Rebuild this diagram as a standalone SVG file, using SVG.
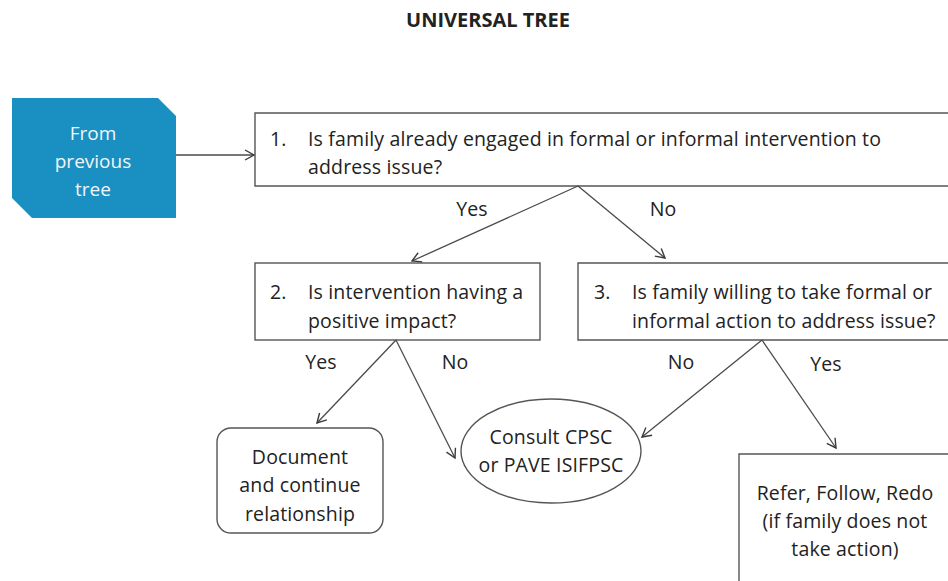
<svg xmlns="http://www.w3.org/2000/svg" width="948" height="581" viewBox="0 0 948 581">
  <defs>
    <marker id="arrow" markerWidth="12" markerHeight="12" refX="10" refY="6" orient="auto" markerUnits="userSpaceOnUse">
      <path d="M1,1 L10,6 L1,11" fill="none" stroke="#3a3a3a" stroke-width="1.4"/>
    </marker>
  </defs>
  <style>
    text { font-family: "Open Sans", "Noto Sans", "DejaVu Sans", sans-serif; font-size: 19.5px; letter-spacing: 0.15px; fill: #222; }
    .title { font-weight: bold; font-size: 20px; letter-spacing: 0; }
    .box { fill: #fff; stroke: #555; stroke-width: 1.4; }
    .start { fill: #1a8fc1; }
    .start text { fill: #f2f6f8; text-anchor: middle; font-size: 19px; letter-spacing: 0; }
    .mid { text-anchor: middle; }
    .conn { fill: none; stroke: #4a4a4a; stroke-width: 1.3; marker-end: url(#arrow); }
  </style>

  <rect width="948" height="581" fill="#fff"/>

  <text class="title" x="488" y="27" text-anchor="middle">UNIVERSAL TREE</text>

  <!-- Entry point -->
  <g id="from-previous" class="start">
    <path d="M12,98 L158,98 L176,116 L176,218 L32,218 L12,198 Z"/>
    <text x="93" y="140">From</text>
    <text x="93" y="168">previous</text>
    <text x="93" y="196">tree</text>
  </g>

  <!-- Question 1 -->
  <g id="q1">
    <path class="box" d="M949,113 L255,113 L255,186 L949,186"/>
    <text x="270" y="146">1.</text>
    <text x="308" y="146">Is family already engaged in formal or informal intervention to</text>
    <text x="308" y="174">address issue?</text>
  </g>

  <!-- Question 2 -->
  <g id="q2">
    <rect class="box" x="255" y="263" width="285" height="77"/>
    <text x="270" y="299">2.</text>
    <text x="308" y="299">Is intervention having a</text>
    <text x="308" y="328">positive impact?</text>
  </g>

  <!-- Question 3 -->
  <g id="q3">
    <path class="box" d="M949,263 L578,263 L578,340 L949,340"/>
    <text x="594" y="299">3.</text>
    <text x="632" y="299">Is family willing to take formal or</text>
    <text x="632" y="328">informal action to address issue?</text>
  </g>

  <!-- Outcomes -->
  <g id="document">
    <rect class="box" x="217" y="428" width="166" height="105" rx="14"/>
    <text class="mid" x="300" y="464">Document</text>
    <text class="mid" x="300" y="492">and continue</text>
    <text class="mid" x="300" y="521">relationship</text>
  </g>

  <g id="consult">
    <ellipse class="box" cx="551" cy="451" rx="90" ry="52"/>
    <text class="mid" x="551" y="444">Consult CPSC</text>
    <text class="mid" x="551" y="472">or PAVE ISIFPSC</text>
  </g>

  <g id="refer">
    <path class="box" d="M739,582 L739,454 L949,454"/>
    <text class="mid" x="845" y="500">Refer, Follow, Redo</text>
    <text class="mid" x="845" y="528">(if family does not</text>
    <text class="mid" x="845" y="556">take action)</text>
  </g>

  <!-- Connectors and branch labels -->
  <g id="connectors">
    <line class="conn" x1="176" y1="155" x2="254" y2="155"/>
    <line class="conn" x1="578" y1="186" x2="412" y2="261"/>
    <line class="conn" x1="578" y1="186" x2="665" y2="258"/>
    <line class="conn" x1="396" y1="340" x2="317" y2="423"/>
    <line class="conn" x1="396" y1="340" x2="455" y2="458"/>
    <line class="conn" x1="762" y1="340" x2="642" y2="437"/>
    <line class="conn" x1="762" y1="340" x2="836" y2="448"/>
  </g>
  <g id="labels">
    <text class="mid" x="472" y="216">Yes</text>
    <text class="mid" x="663" y="216">No</text>
    <text class="mid" x="321" y="369">Yes</text>
    <text class="mid" x="455" y="369">No</text>
    <text class="mid" x="681" y="369">No</text>
    <text class="mid" x="826" y="371">Yes</text>
  </g>
</svg>
